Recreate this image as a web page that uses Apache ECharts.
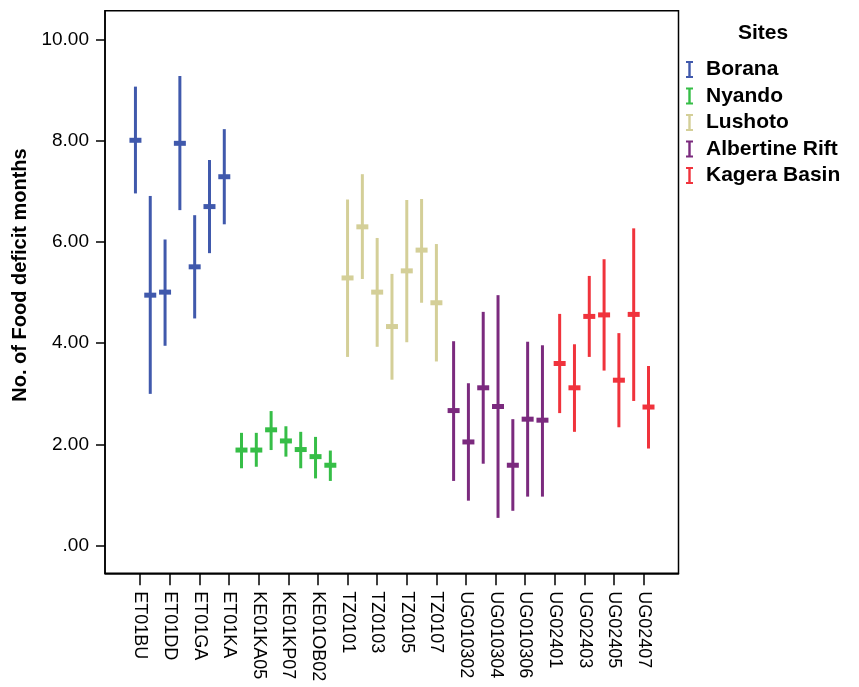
<!DOCTYPE html>
<html>
<head>
<meta charset="utf-8">
<script src="https://cdn.jsdelivr.net/npm/echarts@6/dist/echarts.min.js"></script>
<style>html,body{margin:0;padding:0;background:#fff}#c{width:859px;height:687px}</style>
</head>
<body>
<div id="c"></div>
<script>
// Site names (legend)
const sites = ['Borana', 'Nyando', 'Lushoto', 'Albertine Rift', 'Kagera Basin'];
const siteColors = ['#4059AC', '#36BE47', '#D4CF98', '#7B2A7E', '#F0333C'];

// Villages along the x axis (only every other label is printed; unreadable ones left blank)
const villages = [
  'ET01BU', '', 'ET01DD', '', 'ET01GA', '', 'ET01KA',
  '', 'KE01KA05', '', 'KE01KP07', '', 'KE01OB02', '',
  'TZ0101', 'TZ0102', 'TZ0103', 'TZ0104', 'TZ0105', 'TZ0106', 'TZ0107',
  'UG010301', 'UG010302', 'UG010303', 'UG010304', 'UG010305', 'UG010306', 'UG010307',
  'UG02401', 'UG02402', 'UG02403', 'UG02404', 'UG02405', 'UG02406', 'UG02407'
];
const villageSite = [
  0,0,0,0,0,0,0,
  1,1,1,1,1,1,1,
  2,2,2,2,2,2,2,
  3,3,3,3,3,3,3,
  4,4,4,4,4,4,4
];
// Mean number of food deficit months and error bar bounds
const means = [
  8.01, 4.95, 5.01, 7.95, 5.51, 6.70, 7.29,
  1.89, 1.89, 2.29, 2.07, 1.90, 1.76, 1.59,
  5.29, 6.30, 5.01, 4.33, 5.43, 5.84, 4.80,
  2.67, 2.05, 3.12, 2.75, 1.59, 2.50, 2.48,
  3.60, 3.12, 4.53, 4.56, 3.27, 4.57, 2.74
];
const lower = [
  6.96, 3.00, 3.95, 6.63, 4.49, 5.78, 6.35,
  1.53, 1.56, 1.89, 1.76, 1.53, 1.33, 1.28,
  3.73, 5.27, 3.93, 3.28, 4.02, 4.80, 3.64,
  1.28, 0.89, 1.62, 0.55, 0.69, 0.97, 0.97,
  2.62, 2.25, 3.73, 3.46, 2.34, 2.86, 1.92
];
const upper = [
  9.07, 6.91, 6.05, 9.28, 6.53, 7.62, 8.23,
  2.23, 2.23, 2.66, 2.36, 2.25, 2.15, 1.88,
  6.84, 7.34, 6.08, 5.37, 6.83, 6.85, 5.96,
  4.04, 3.21, 4.62, 4.95, 2.50, 4.03, 3.96,
  4.58, 3.98, 5.33, 5.66, 4.20, 6.27, 3.55
];
const yTicks = [0, 2, 4, 6, 8, 10];
const xTicks = villages.map((v, i) => i).filter(i => i % 2 === 0);

const FONT = 'Liberation Sans, Arial, sans-serif';

function renderItem(params, api) {
  const x = api.value(0);
  const pM = api.coord([x, api.value(1)]);
  const pL = api.coord([x, api.value(2)]);
  const pH = api.coord([x, api.value(3)]);
  const off = (params.seriesIndex - 2) * 2.4;
  const cx = pM[0] + off;
  const color = api.visual('color');
  return {
    type: 'group',
    children: [
      { type: 'line', shape: { x1: cx, y1: pH[1], x2: cx, y2: pL[1] }, style: { stroke: color, lineWidth: 3 } },
      { type: 'rect', shape: { x: cx - 6, y: pM[1] - 2.5, width: 12, height: 5 }, style: { fill: color } }
    ]
  };
}

const series = sites.map((name, s) => ({
  name: name,
  type: 'custom',
  renderItem: renderItem,
  itemStyle: { color: siteColors[s] },
  encode: { x: 0, y: 1 },
  data: villages.map((v, i) => i).filter(i => villageSite[i] === s)
    .map(i => [i, means[i], lower[i], upper[i]])
}));

const chart = echarts.init(document.getElementById('c'), null, { renderer: 'canvas' });
chart.setOption({
  animation: false,
  backgroundColor: '#fff',
  title: {
    text: 'Sites',
    left: 738,
    top: 23,
    padding: 0,
    textStyle: { fontFamily: FONT, fontSize: 21, fontWeight: 'bold', color: '#000' }
  },
  legend: {
    orient: 'vertical',
    left: 686,
    top: 59,
    padding: 0,
    itemWidth: 7,
    itemHeight: 17,
    itemGap: 5.5,
    data: sites.map(n => ({ name: n, icon: 'path://M0,0H7V2H4.7V15H7V17H0V15H2.3V2H0Z' })),
    textStyle: { fontFamily: FONT, fontSize: 21, fontWeight: 'bold', color: '#000', lineHeight: 21, padding: [0, 0, 0, 8] }
  },
  grid: {
    left: 105,
    right: 180.5,
    top: 10.7,
    bottom: 113.7,
    show: true,
    borderColor: '#000',
    borderWidth: 1.5,
    backgroundColor: 'transparent'
  },
  xAxis: {
    type: 'value',
    min: -2.38,
    max: 36.35,
    splitLine: { show: false },
    axisLine: { show: true, onZero: false, lineStyle: { color: '#000', width: 1.5 } },
    axisTick: { show: true, customValues: xTicks, length: 12, lineStyle: { color: '#000', width: 1.5 } },
    axisLabel: {
      customValues: xTicks,
      rotate: -90,
      margin: 18,
      fontFamily: FONT,
      fontSize: 18,
      color: '#000',
      formatter: v => villages[Math.round(v)]
    }
  },
  yAxis: {
    type: 'value',
    min: -0.545,
    max: 10.57,
    name: 'No. of Food deficit months',
    nameLocation: 'middle',
    nameGap: 68,
    nameTextStyle: { fontFamily: FONT, fontSize: 20, fontWeight: 'bold', color: '#000', padding: [0, 0, 0, 34] },
    splitLine: { show: false },
    axisLine: { show: true, onZero: false, lineStyle: { color: '#000', width: 1.5 } },
    axisTick: { show: true, customValues: yTicks, length: 9, lineStyle: { color: '#000', width: 1.5 } },
    axisLabel: {
      customValues: yTicks,
      margin: 16,
      fontFamily: FONT,
      fontSize: 19,
      color: '#000',
      formatter: v => (v === 0 ? '.00' : v.toFixed(2))
    }
  },
  series: series
});
</script>
</body>
</html>
